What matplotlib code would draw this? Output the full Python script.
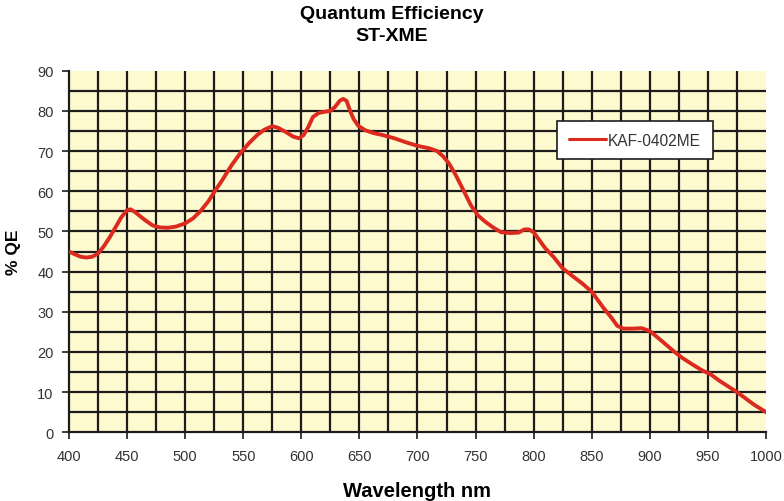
import matplotlib
matplotlib.use("Agg")
import matplotlib.pyplot as plt
import numpy as np

plt.rcParams['font.family'] = ['Liberation Sans', 'DejaVu Sans']

wavelength = [400, 405, 410, 415, 420, 425, 430, 435, 440, 445, 450, 453, 457, 462, 467,
              472, 478, 485, 492, 500, 507, 513, 520, 525, 532, 540, 547, 555, 562, 568,
              575, 580, 587, 593, 598, 602, 606, 610, 615, 620, 625, 629, 633, 636, 639,
              642, 645, 649, 655, 662, 670, 680, 690, 700, 710, 717, 722, 727, 733, 740,
              746, 752, 758, 765, 772, 780, 787, 792, 796, 800, 805, 810, 817, 825, 833,
              842, 850, 855, 860, 867, 872, 877, 885, 893, 900, 905, 912, 920, 928, 936,
              945, 952, 960, 968, 975, 983, 990, 1000]
qe = [45.0, 44.3, 43.7, 43.5, 43.7, 44.5, 46.3, 48.5, 51.0, 53.5, 55.3, 55.5, 54.8, 53.6, 52.5,
      51.5, 51.0, 50.9, 51.2, 52.0, 53.3, 55.0, 57.5, 59.8, 62.8, 66.5, 69.3, 72.0, 74.0, 75.3,
      76.2, 75.8, 74.7, 73.6, 73.2, 74.0, 76.0, 78.5, 79.5, 79.8, 80.0, 81.0, 82.5, 83.0, 82.5,
      80.0, 78.0, 76.3, 75.2, 74.5, 74.0, 73.2, 72.2, 71.3, 70.7, 70.0, 68.7, 67.0, 64.0, 60.0,
      56.5, 54.0, 52.5, 51.0, 49.8, 49.6, 49.7, 50.5, 50.5, 49.8, 47.8, 45.8, 43.7, 40.8, 39.0,
      37.0, 35.0, 33.0, 31.0, 28.5, 26.5, 25.8, 25.8, 25.9, 25.2, 24.0, 22.3, 20.3, 18.5, 17.0,
      15.4, 14.5, 12.8, 11.3, 10.0, 8.3, 6.8, 5.0]
series_label = "KAF-0402ME"

fig = plt.figure(figsize=(7.84, 5.02), dpi=100)
ax = fig.add_axes([0.088, 0.137, 0.889, 0.72])
ax.set_facecolor('#FDFAD0')

for x in np.arange(425, 1000, 25):
    ax.axvline(x, color='#1c1c1c', lw=1.6, zorder=1)
for y in np.arange(5, 90, 5):
    ax.axhline(y, color='#1c1c1c', lw=1.6, zorder=1)

ax.plot(wavelength, qe, color='#DD2A1E', lw=2.8, label=series_label, zorder=3,
        solid_joinstyle='round', solid_capstyle='round')

ax.set_xlim(400, 1000)
ax.set_ylim(0, 90)
ax.set_xticks(np.arange(400, 1001, 50))
ax.set_yticks(np.arange(0, 91, 10))
ax.tick_params(axis='both', labelsize=10.5, direction='out', length=5, width=1.2,
               color='#1c1c1c', labelcolor='#333333')
ax.tick_params(axis='x', pad=7)
ax.tick_params(axis='y', pad=6)
for s in ['top', 'right']:
    ax.spines[s].set_visible(False)
for s in ['left', 'bottom']:
    ax.spines[s].set_color('#1c1c1c')
    ax.spines[s].set_linewidth(1.6)

ax.set_xlabel('Wavelength nm', fontsize=14.5, fontweight='bold', labelpad=13)
ax.set_ylabel('% QE', fontsize=12.5, fontweight='bold', labelpad=12)
fig.suptitle('Quantum Efficiency\nST-XME', fontsize=14, fontweight='bold', y=0.988,
             linespacing=1.4)

leg = ax.legend(loc='upper left', bbox_to_anchor=(0.700, 0.861), borderaxespad=0,
                frameon=True, fancybox=False, framealpha=1, edgecolor='#1c1c1c',
                fontsize=11.2, handlelength=2.4, borderpad=0.75, handletextpad=0.15,
                labelcolor='#333333')
leg.get_frame().set_linewidth(1.2)
for h in leg.get_lines():
    h.set_linewidth(2.2)

fig.savefig('out.png', dpi=100)
